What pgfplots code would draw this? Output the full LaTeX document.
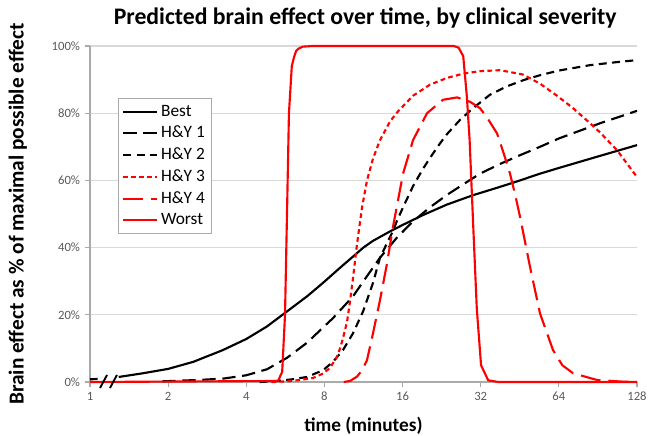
\documentclass[border=0pt]{standalone}
\usepackage{fontspec}
\setmainfont{Carlito}
\usepackage{pgfplots}
\pgfplotsset{compat=1.18}
\definecolor{gridgray}{RGB}{217,217,217}
\definecolor{axgray}{RGB}{170,170,170}
\definecolor{ticklab}{RGB}{89,89,89}
\definecolor{xred}{RGB}{255,0,0}
\begin{document}
\begin{tikzpicture}
\begin{axis}[
  at={(0,0)}, anchor=south west,
  width=410.25pt, height=252pt, scale only axis,
  xmode=log, log basis x=2,
  xmin=1, xmax=128, ymin=0, ymax=100,
  clip=false,
  xtick={1,2,4,8,16,32,64,128},
  xticklabels={1,2,4,8,16,32,64,128},
  ytick={0,20,40,60,80,100},
  yticklabels={0\%,20\%,40\%,60\%,80\%,100\%},
  minor xtick={},
  axis lines*=left,
  axis line style={draw=axgray, line width=0.8pt, -},
  ymajorgrids,
  grid style={draw=gridgray, line width=0.8pt},
  tick align=outside,
  major tick length=4pt,
  tick style={draw=axgray, line width=0.8pt},
  /pgf/number format/assume math mode=true,
  tick label style={font=\fontsize{9.5}{11}\selectfont, text=ticklab},
  xlabel={time (minutes)},
  ylabel={Brain effect as \% of maximal possible effect},
  xlabel style={at={(axis description cs:0.5,-0.13)}, anchor=center, font=\fontsize{14.5}{17}\selectfont\bfseries},
  ylabel style={at={(axis description cs:-0.132,0.5)}, anchor=center, font=\fontsize{16}{18}\selectfont\bfseries},
  title={Predicted brain effect over time, by clinical severity},
  title style={at={(axis description cs:0.503,1.06)}, anchor=center, font=\fontsize{17.8}{20}\selectfont\bfseries},
  legend style={at={(axis description cs:0.051,0.845)}, anchor=north west, draw=axgray, fill=white,
    font=\fontsize{13}{15}\selectfont, row sep=2pt, inner sep=3pt},
  legend cell align=left,
  legend image code/.code={\draw[#1] (0cm,0cm) -- (0.9cm,0cm);},
  every axis plot/.append style={line width=1.6pt, line join=round},
]
% Best, first short piece before the axis break
\addplot[black, solid, forget plot] coordinates {(1,0.8) (1.07,0.9)};
% Best
\addplot[black, solid] coordinates {
(1.29,1.5) (1.6,2.6) (2,3.9) (2.5,6) (3.25,9.5) (4,12.8) (4.8,16.5) (5.74,21)
(6.86,25.5) (7.9,29.5) (9.19,34) (10.3,37.3) (11.3,40) (12.3,42) (14.3,44.8)
(16.07,46.8) (19.2,49.7) (23.7,52.8) (29.9,55.6) (36.98,57.8) (42.6,59.3)
(54.15,62) (64,63.7) (92.2,67.3) (128,70.5)};
% H&Y 1
\addplot[black, dash pattern=on 10pt off 5pt] coordinates {
(1.9,0.2) (2.6,0.6) (3.25,1) (4,2) (4.81,3.8) (5.74,7.2) (6.86,11.7) (7.9,16.2)
(8.63,19) (10.31,25.5) (11.67,31.5) (13.1,37) (15.23,43) (17.56,47.8) (20.41,52)
(23.74,55.7) (27.5,58.9) (31.8,62) (38,64.9) (45.35,67.5) (54.15,70) (64.1,72.5)
(92.2,77) (128,80.7)};
% H&Y 2
\addplot[black, dash pattern=on 6pt off 4pt] coordinates {
(4.5,0) (5.25,0.3) (6.0,0.8) (6.86,1.5) (7.9,3.5) (8.63,6) (9.43,9.5) (10.31,14.5)
(11.27,21) (12.31,29.5) (13.1,37) (14.7,45) (15.23,48) (16.07,52) (17.56,58.3)
(19.2,63.5) (20.41,66.7) (22.3,71) (23.74,73.8) (26.63,78) (29.9,81.5) (34.75,85.5)
(40.41,88) (47,89.9) (54.15,91.3) (64.1,92.7) (84.4,94.3) (107,95.2) (128,95.8)};
% H&Y 3
\addplot[xred, dash pattern=on 3.5pt off 2.5pt] coordinates {
(5.0,0) (5.74,0.2) (6.44,0.6) (7.23,1.2) (7.9,2.5) (8.41,4.2) (8.94,7.5) (9.19,10)
(9.43,13) (9.78,18) (10.04,24) (10.31,31) (10.68,41) (11.17,52) (11.67,60)
(12.31,66.5) (13.1,72) (14.31,77.5) (15.23,80.2) (17.56,85.2) (20.41,88.5)
(23.74,90.5) (27.5,91.8) (31.8,92.5) (38,92.8) (46.57,91.5) (54.15,88.8)
(62.95,85.2) (72.6,81.5) (84.4,77) (92.2,74.3) (107.2,69) (128,61)};
% H&Y 4
\addplot[xred, dash pattern=on 15pt off 6pt] coordinates {
(9.5,0) (10.04,0.3) (10.68,1.6) (11.17,3.5) (11.67,6.5) (12.31,14.5) (13.1,24.4)
(13.94,35.3) (14.7,46.2) (16.07,62) (17.56,72) (19.88,80) (22.91,84) (25.94,84.7)
(29.1,83.4) (31.8,81.5) (34,78.5) (36.98,74) (39,68.7) (41.5,62) (43.5,55.5)
(45.35,49.2) (49.55,34.3) (54.15,20.4) (60.77,9.5) (66,5) (72.6,2.6) (89.8,0.6)
(113,0.1) (128,0)};
% Worst
\addplot[xred, solid] coordinates {
(1,0) (5.3,0.3) (5.5,3) (5.64,20) (5.74,50) (5.84,80) (5.99,94) (6.1,96.5)
(6.22,98.5) (6.35,99.2) (6.6,99.8) (7.2,100) (25.2,100) (26.3,99.5)
(27.4,97) (28.3,85) (29.0,72) (30.0,45) (30.9,22) (32.1,5) (34.2,0.5)
(37.5,0) (128,0)};
% axis break marks
\addplot[black, solid, forget plot, line width=1.4pt] coordinates {(1.093,-1.8) (1.163,2.1)};
\addplot[black, solid, forget plot, line width=1.4pt] coordinates {(1.194,-1.8) (1.270,2.1)};
\legend{Best, H\&Y 1, H\&Y 2, H\&Y 3, H\&Y 4, Worst}
\end{axis}
\pgfresetboundingbox
\useasboundingbox (-67.5pt,-39.75pt) rectangle (418.5pt,286.5pt);
\end{tikzpicture}
\end{document}
